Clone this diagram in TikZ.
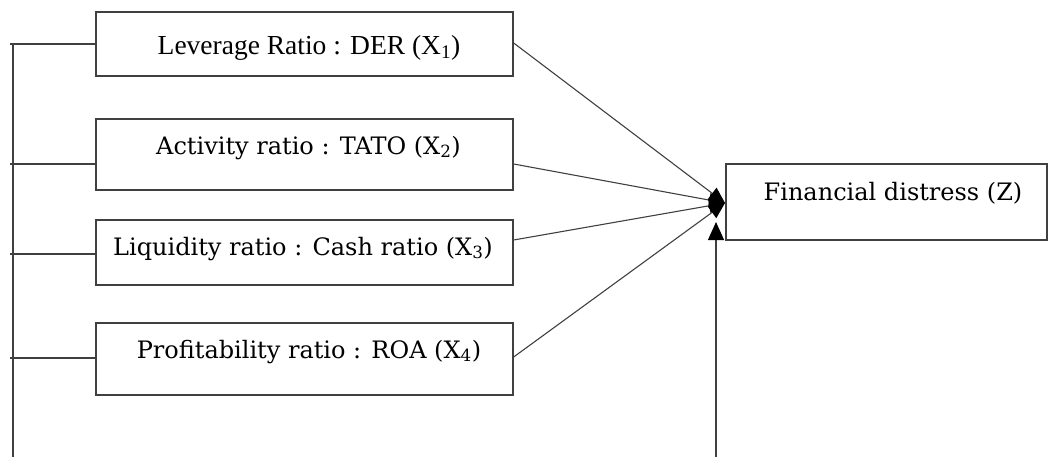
\documentclass[tikz,border=0pt]{standalone}
\usepackage{fontspec}
\setmainfont{DejaVu Serif}
\newfontfamily\timesf{Liberation Serif}
\usetikzlibrary{arrows.meta}
\tikzset{
  box/.style={draw=black!75, line width=1.3pt, inner sep=0pt, fill=white},
  lbl/.style={anchor=base, inner sep=0pt, font=\fontsize{24}{28}\selectfont},
  conn/.style={draw=black!75, line width=1.1pt},
  arr/.style={conn, -{Triangle[length=16pt,width=14pt,color=black]}},
  uparr/.style={conn, -{Triangle[length=18pt,width=16pt,color=black]}}
}
\begin{document}
\begin{tikzpicture}[x=1pt,y=-1pt]
\useasboundingbox (0,0) rectangle (1048,457);
% boxes
\node[box, minimum width=417pt, minimum height=64pt] (b1) at (304.5,44) {};
\node[box, minimum width=417pt, minimum height=71pt] (b2) at (304.5,154.5) {};
\node[box, minimum width=417pt, minimum height=65pt] (b3) at (304.5,252.5) {};
\node[box, minimum width=417pt, minimum height=72pt] (b4) at (304.5,359) {};
\node[box, minimum width=321pt, minimum height=76pt] (bz) at (886.5,202) {};
% texts
\node[lbl, font=\timesf\fontsize{27.5}{30}\selectfont] (t1) at (309,54.5) {Leverage Ratio : DER (X\textsubscript{1})};
\node[lbl] (t2) at (308.5,154) {Activity ratio : TATO (X\textsubscript{2})};
\node[lbl] (t3) at (303,255) {Liquidity ratio : Cash ratio (X\textsubscript{3})};
\node[lbl] (t4) at (309,358) {Profitability ratio : ROA (X\textsubscript{4})};
\node[lbl] (tz) at (893,200) {Financial distress (Z)};
% left bracket lines
\coordinate (l1) at (10,44);
\coordinate (l2) at (10,164);
\coordinate (l3) at (10,254);
\coordinate (l4) at (10,358);
\coordinate (vtop) at (13,44);
\coordinate (vbot) at (13,457);
\draw[conn] (vtop) -- (vbot);
\draw[conn] (l1) -- (l1 -| b1.west);
\draw[conn] (l2) -- (l2 -| b2.west);
\draw[conn] (l3) -- (l3 -| b3.west);
\draw[conn] (l4) -- (l4 -| b4.west);
% converging arrows
\coordinate (hub) at (725,203);
\draw[arr] ([yshift=1pt]b1.east) -- (hub);
\draw[arr] ([yshift=-9.5pt]b2.east) -- (hub);
\draw[arr] ([yshift=12.5pt]b3.east) -- (hub);
\draw[arr] ([yshift=2pt]b4.east) -- (hub);
% vertical arrow
\coordinate (ubot) at (716,457);
\coordinate (utop) at (716,222);
\draw[uparr] (ubot) -- (utop);
\end{tikzpicture}
\end{document}
